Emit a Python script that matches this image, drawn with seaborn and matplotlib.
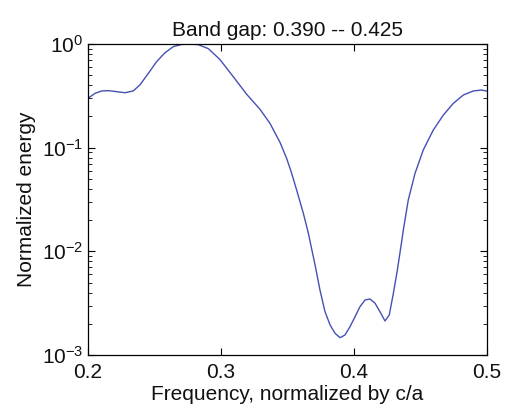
import numpy as np
import pandas as pd
import matplotlib
matplotlib.use("Agg")
import matplotlib.pyplot as plt
from matplotlib.ticker import LogLocator, FixedLocator, NullFormatter
import seaborn as sns

# Transmission spectrum of the photonic crystal slab (energy on a log scale)
frequency = [0.2000, 0.2053, 0.2103, 0.2153, 0.2216, 0.2278, 0.2340, 0.2390,
             0.2454, 0.2516, 0.2579, 0.2641, 0.2704, 0.2767, 0.2829, 0.2905,
             0.2992, 0.3092, 0.3193, 0.3293, 0.3368, 0.3444, 0.3494, 0.3532,
             0.3569, 0.3619, 0.3657, 0.3669, 0.3707, 0.3744, 0.3782, 0.3820,
             0.3857, 0.3895, 0.3932, 0.3970, 0.4008, 0.4045, 0.4083, 0.4120,
             0.4158, 0.4195, 0.4233, 0.4265, 0.4296, 0.4326, 0.4359, 0.4371,
             0.4408, 0.4459, 0.4521, 0.4596, 0.4672, 0.4747, 0.4822, 0.4897,
             0.4960, 0.5000]
log10_energy = [-0.524, -0.476, -0.453, -0.450, -0.460, -0.470, -0.453, -0.395,
                -0.283, -0.170, -0.084, -0.026, -0.004, 0.000, -0.006, -0.045,
                -0.150, -0.315, -0.485, -0.630, -0.765, -0.950, -1.105, -1.250,
                -1.410, -1.633, -1.826, -1.900, -2.130, -2.373, -2.582, -2.710,
                -2.790, -2.833, -2.807, -2.727, -2.630, -2.534, -2.469, -2.460,
                -2.500, -2.582, -2.672, -2.614, -2.405, -2.180, -1.900, -1.794,
                -1.505, -1.247, -1.022, -0.830, -0.685, -0.572, -0.492, -0.453,
                -0.444, -0.455]
energy = [10 ** v for v in log10_energy]

gap_low, gap_high = 0.390, 0.425
x_ticks = [0.2, 0.3, 0.4, 0.5]

sns.set_style("white")
plt.rcParams["font.family"] = ["Liberation Sans", "DejaVu Sans"]
plt.rcParams["mathtext.fontset"] = "custom"
plt.rcParams["mathtext.rm"] = "Liberation Sans"
plt.rcParams["mathtext.it"] = "Liberation Sans:italic"
plt.rcParams["mathtext.bf"] = "Liberation Sans:bold"
plt.rcParams["text.color"] = "#111111"
plt.rcParams["axes.labelcolor"] = "#111111"

df = pd.DataFrame({"frequency": frequency, "energy": energy})

fig = plt.figure(figsize=(5.07, 4.13), dpi=100)
ax = fig.add_axes([88 / 507, 1 - 355 / 413, 399 / 507, 311 / 413])

sns.lineplot(data=df, x="frequency", y="energy", ax=ax, sort=False,
             estimator=None, color="#4550b4", linewidth=1.0)

ax.set_yscale("log")
ax.set_xlim(0.2, 0.5)
ax.set_ylim(1e-3, 1e0)
ax.xaxis.set_major_locator(FixedLocator(x_ticks))
ax.set_xticklabels([f"{t:.1f}" for t in x_ticks])
ax.yaxis.set_major_locator(LogLocator(base=10, numticks=10))
ax.yaxis.set_minor_locator(LogLocator(base=10, subs=np.arange(2, 10), numticks=20))
ax.yaxis.set_minor_formatter(NullFormatter())

for s in ax.spines.values():
    s.set_color("black")
    s.set_linewidth(0.9)
ax.tick_params(which="both", direction="in", top=True, right=True,
               left=True, bottom=True, colors="black", labelcolor="#111111",
               labelsize=15)
ax.tick_params(which="major", length=5, width=0.8)
ax.tick_params(which="minor", length=3, width=0.6)
ax.tick_params(axis="x", pad=6)

ax.set_xlabel("Frequency, normalized by c/a", fontsize=15, labelpad=2)
ax.set_ylabel("Normalized energy", fontsize=15, labelpad=4)
ax.set_title(f"Band gap: {gap_low:.3f} -- {gap_high:.3f}", fontsize=15, pad=6)

fig.savefig("out.png", dpi=100, facecolor="white")
